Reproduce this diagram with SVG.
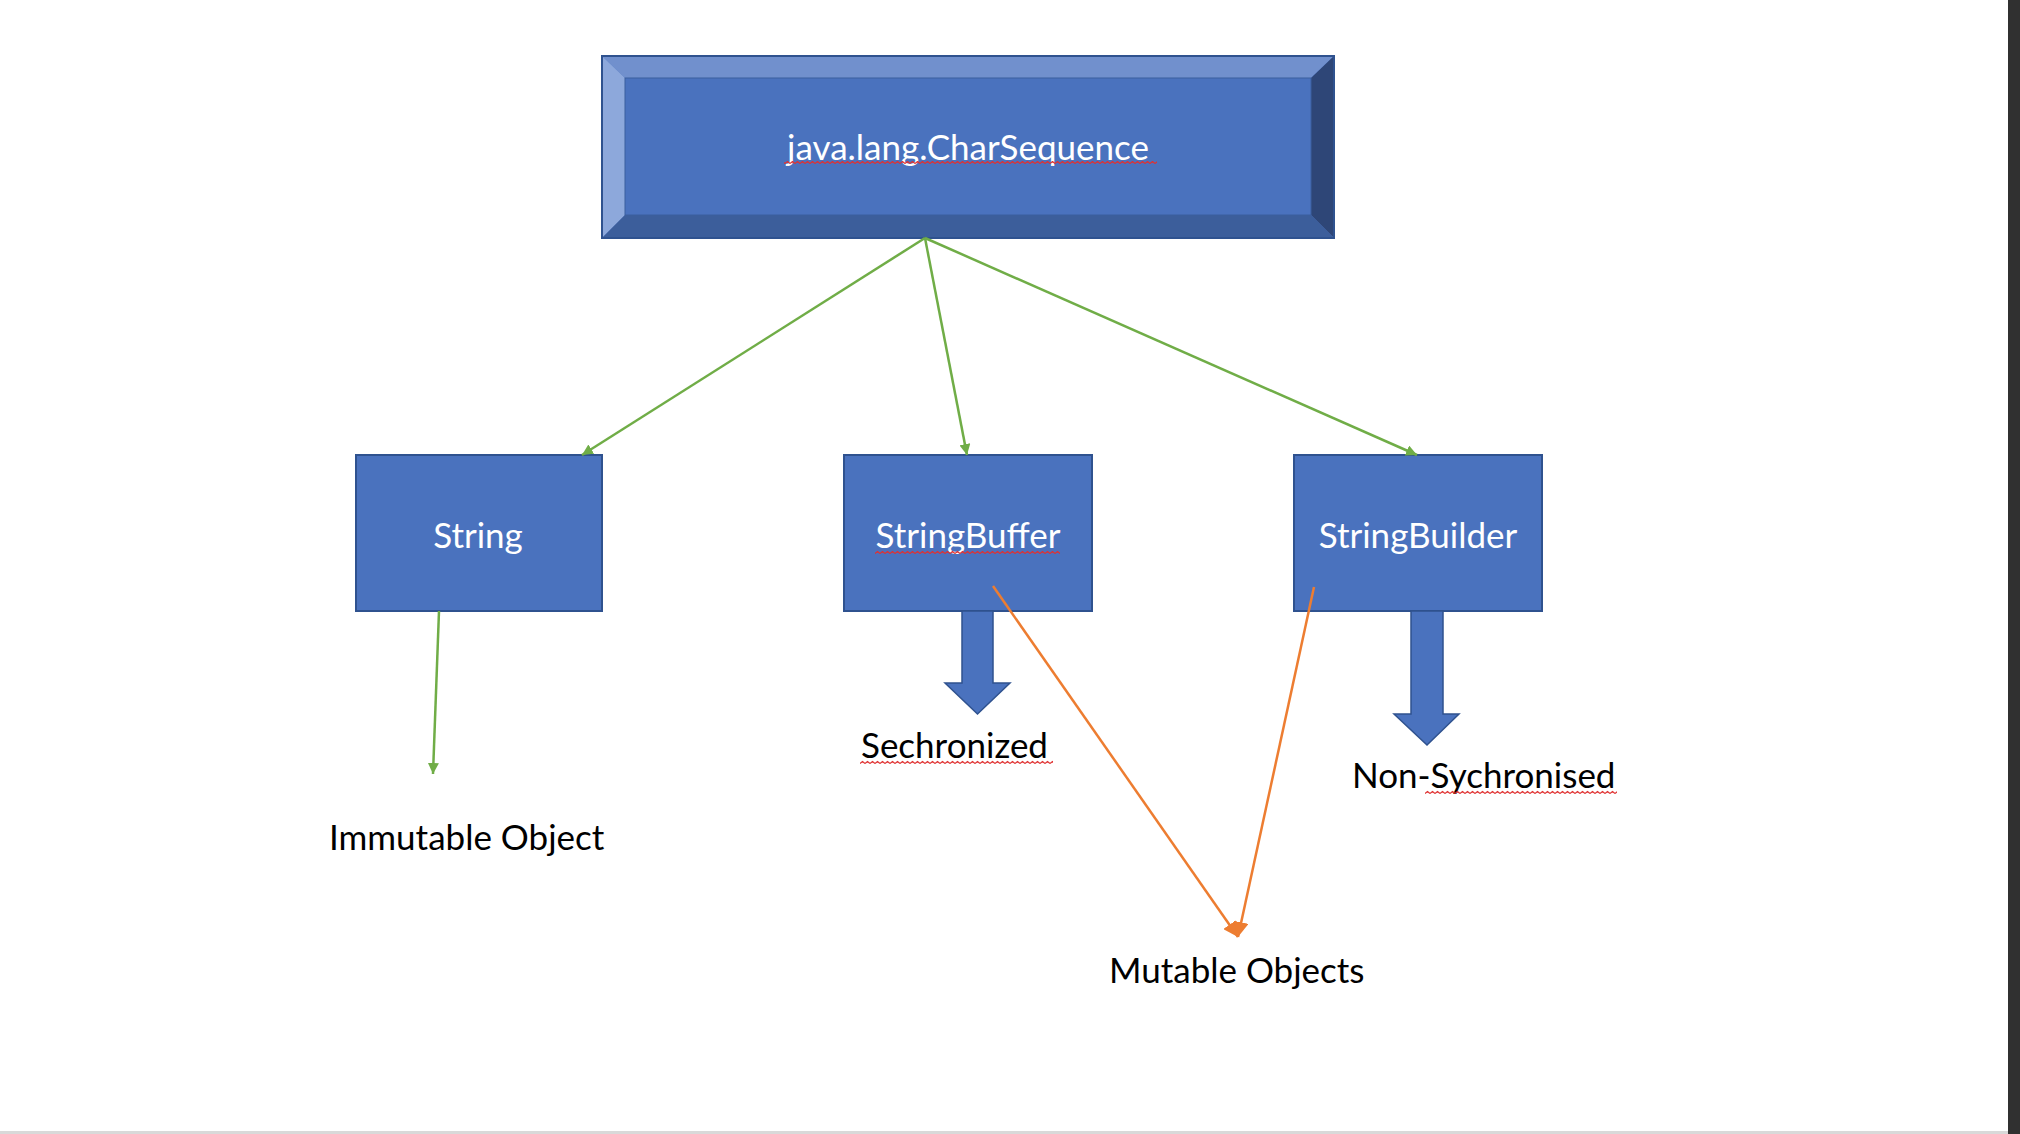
<svg xmlns="http://www.w3.org/2000/svg" width="2020" height="1134" viewBox="0 0 2020 1134">
<defs>
<style>
.box{fill:#4A72BE;stroke:#2F528F;stroke-width:2}
.wt{font-family:Lato,"Open Sans","Liberation Sans",sans-serif;font-size:35px;fill:#FFFFFF;text-anchor:middle}
.bt{font-family:Lato,"Open Sans","Liberation Sans",sans-serif;font-size:35px;fill:#000000}
.g{stroke:#70AD47;stroke-width:2.5;fill:none;marker-end:url(#ga)}
.o{stroke:#ED7D31;stroke-width:2.5;fill:none;marker-end:url(#oa)}
.blk{fill:#4A72BE;stroke:#2F528F;stroke-width:1.5}
.sq{fill:url(#sqp)}
</style>
<marker id="ga" viewBox="0 0 10 10" refX="10" refY="5" markerWidth="11" markerHeight="11" markerUnits="userSpaceOnUse" orient="auto">
<path d="M0,0 L10,5 L0,10 z" fill="#70AD47"/>
</marker>
<marker id="oa" viewBox="0 0 10 10" refX="10" refY="5" markerWidth="15" markerHeight="15" markerUnits="userSpaceOnUse" orient="auto">
<path d="M0,0 L10,5 L0,10 z" fill="#ED7D31"/>
</marker>
<pattern id="sqp" x="0" y="0" width="5" height="5" patternUnits="userSpaceOnUse">
<path d="M0,3.5 L2.5,1.5 L5,3.5" stroke="#E03030" stroke-width="1.2" fill="none"/>
</pattern>
</defs>
<rect x="0" y="0" width="2020" height="1134" fill="#FFFFFF"/>
<rect x="2008" y="0" width="12" height="1134" fill="#303030"/>
<rect x="0" y="1131" width="2008" height="3" fill="#D9D9D9"/>

<g id="node-charsequence">
<rect x="602" y="56" width="732" height="182" fill="#4A72BE" stroke="#2F528F" stroke-width="2"/>
<polygon points="602,56 1334,56 1311,78 625,78" fill="#7190CD"/>
<polygon points="602,56 625,78 625,215 602,238" fill="#8DA8DB"/>
<polygon points="1334,56 1334,238 1311,215 1311,78" fill="#2E4677"/>
<polygon points="602,238 625,215 1311,215 1334,238" fill="#3C5E9B"/>
<rect x="625" y="78" width="686" height="137" fill="#4A72BE" stroke="#3A5E9E" stroke-width="1"/>
<rect x="602" y="56" width="732" height="182" fill="none" stroke="#2F528F" stroke-width="2"/>
<text class="wt" x="968" y="160">java.lang.CharSequence</text>
<rect class="sq" x="784" y="161" width="373" height="5"/>
</g>

<g id="node-string">
<rect class="box" x="356" y="455" width="246" height="156"/>
<text class="wt" x="478" y="548">String</text>
</g>

<g id="node-stringbuffer">
<rect class="box" x="844" y="455" width="248" height="156"/>
<text class="wt" x="968" y="548">StringBuffer</text>
<rect class="sq" x="875" y="550" width="185" height="5"/>
</g>

<g id="node-stringbuilder">
<rect class="box" x="1294" y="455" width="248" height="156"/>
<text class="wt" x="1418" y="548">StringBuilder</text>
</g>

<g id="arrow-sync">
<polygon class="blk" points="962,611 993,611 993,683 1010,683 977.5,714 945,683 962,683"/>
</g>
<g id="arrow-nonsync">
<polygon class="blk" points="1411,611 1443,611 1443,714 1459,714 1427,745 1394,714 1411,714"/>
</g>

<g id="label-immutable">
<text class="bt" x="329" y="850">Immutable Object</text>
</g>
<g id="label-sechronized">
<text class="bt" x="861" y="758">Sechronized</text>
<rect class="sq" x="860" y="760" width="193" height="5"/>
</g>
<g id="label-nonsync">
<text class="bt" x="1352" y="788">Non-Sychronised</text>
<rect class="sq" x="1425" y="790" width="192" height="5"/>
</g>
<g id="label-mutable">
<text class="bt" x="1109" y="983">Mutable Objects</text>
</g>

<g id="connectors">
<line class="g" x1="925" y1="238" x2="582" y2="455"/>
<line class="g" x1="925" y1="238" x2="967" y2="455"/>
<line class="g" x1="925" y1="238" x2="1417" y2="455"/>
<line class="g" x1="439" y1="611" x2="433" y2="774"/>
<line class="o" x1="993" y1="586" x2="1238" y2="937"/>
<line class="o" x1="1314" y1="587" x2="1238" y2="937"/>
</g>
</svg>
